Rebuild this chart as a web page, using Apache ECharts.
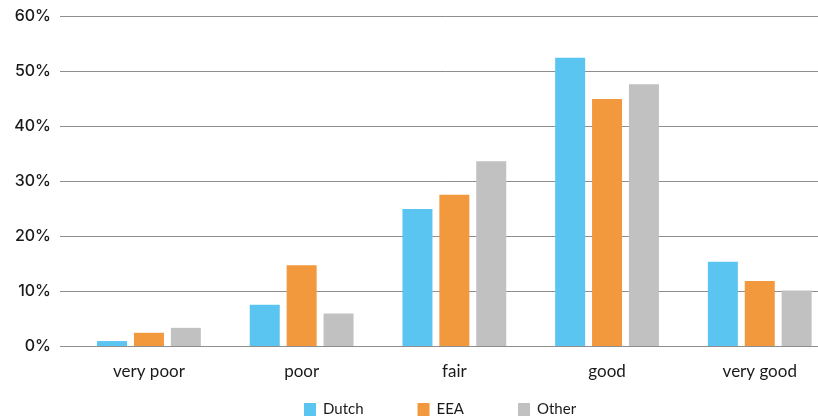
<!DOCTYPE html>
<html>
<head>
<meta charset="utf-8">
<script src="https://cdn.jsdelivr.net/npm/echarts@6/dist/echarts.min.js"></script>
<style>
  html, body { margin: 0; padding: 0; background: #fff; }
  #chart { width: 818px; height: 418px; }
</style>
</head>
<body>
<div id="chart"></div>
<script>
// Self-rated health by origin group (share of respondents, %)
const categories = ['very poor', 'poor', 'fair', 'good', 'very good'];
const dutch = [0.9, 7.5, 24.9, 52.4, 15.3];
const eea   = [2.4, 14.7, 27.5, 44.9, 11.8];
const other = [3.3, 5.9, 33.6, 47.6, 10.1];
const seriesNames = ['Dutch', 'EEA', 'Other'];
const yMin = 0, yMax = 60, yStep = 10;

const colors = ['#5BC5F2', '#F2993D', '#C1C1C1'];
const gridLineColor = '#8e8e8e';
const textColor = '#1a1a1a';

const chart = echarts.init(document.getElementById('chart'), null, { renderer: 'canvas' });

const valueAxisBase = {
  type: 'value',
  min: yMin,
  max: yMax,
  interval: yStep,
  axisLine: { show: false },
  axisTick: { show: false },
  splitLine: { show: true, lineStyle: { color: gridLineColor, width: 1 } }
};

chart.setOption({
  animation: false,
  backgroundColor: '#ffffff',
  color: colors,
  grid: [
    // narrow strip carrying the percentage labels
    { left: 60, top: 16, bottom: 72, width: 14, outerBoundsMode: 'none' },
    // plotting area for the grouped bars; runs past the right edge
    { left: 72.6, top: 16, bottom: 72, width: 763.5, outerBoundsMode: 'none' }
  ],
  legend: {
    data: seriesNames,
    left: 304,
    top: 402,
    padding: 0,
    itemWidth: 12,
    itemHeight: 13,
    itemGap: 54,
    icon: 'rect',
    textStyle: { color: textColor, fontFamily: 'Lato', fontSize: 15, padding: [0, 0, 0, 2] }
  },
  xAxis: [
    { type: 'category', gridIndex: 0, data: [''], show: false },
    {
      type: 'category',
      gridIndex: 1,
      data: categories,
      axisLine: { show: false },
      axisTick: { show: false },
      axisLabel: { color: textColor, fontFamily: 'Lato', fontSize: 17, margin: 17 }
    }
  ],
  yAxis: [
    Object.assign({}, valueAxisBase, {
      gridIndex: 0,
      axisLabel: {
        color: textColor,
        fontFamily: 'Inter',
        fontWeight: 500,
        fontSize: 16,
        margin: 9,
        formatter: '{value}%'
      }
    }),
    Object.assign({}, valueAxisBase, {
      gridIndex: 1,
      axisLabel: { show: false }
    })
  ],
  series: [
    { name: seriesNames[0], type: 'bar', xAxisIndex: 1, yAxisIndex: 1, data: dutch, barWidth: 30, barGap: '23%' },
    { name: seriesNames[1], type: 'bar', xAxisIndex: 1, yAxisIndex: 1, data: eea, barWidth: 30, barGap: '23%' },
    { name: seriesNames[2], type: 'bar', xAxisIndex: 1, yAxisIndex: 1, data: other, barWidth: 30, barGap: '23%' }
  ]
});
</script>
</body>
</html>
